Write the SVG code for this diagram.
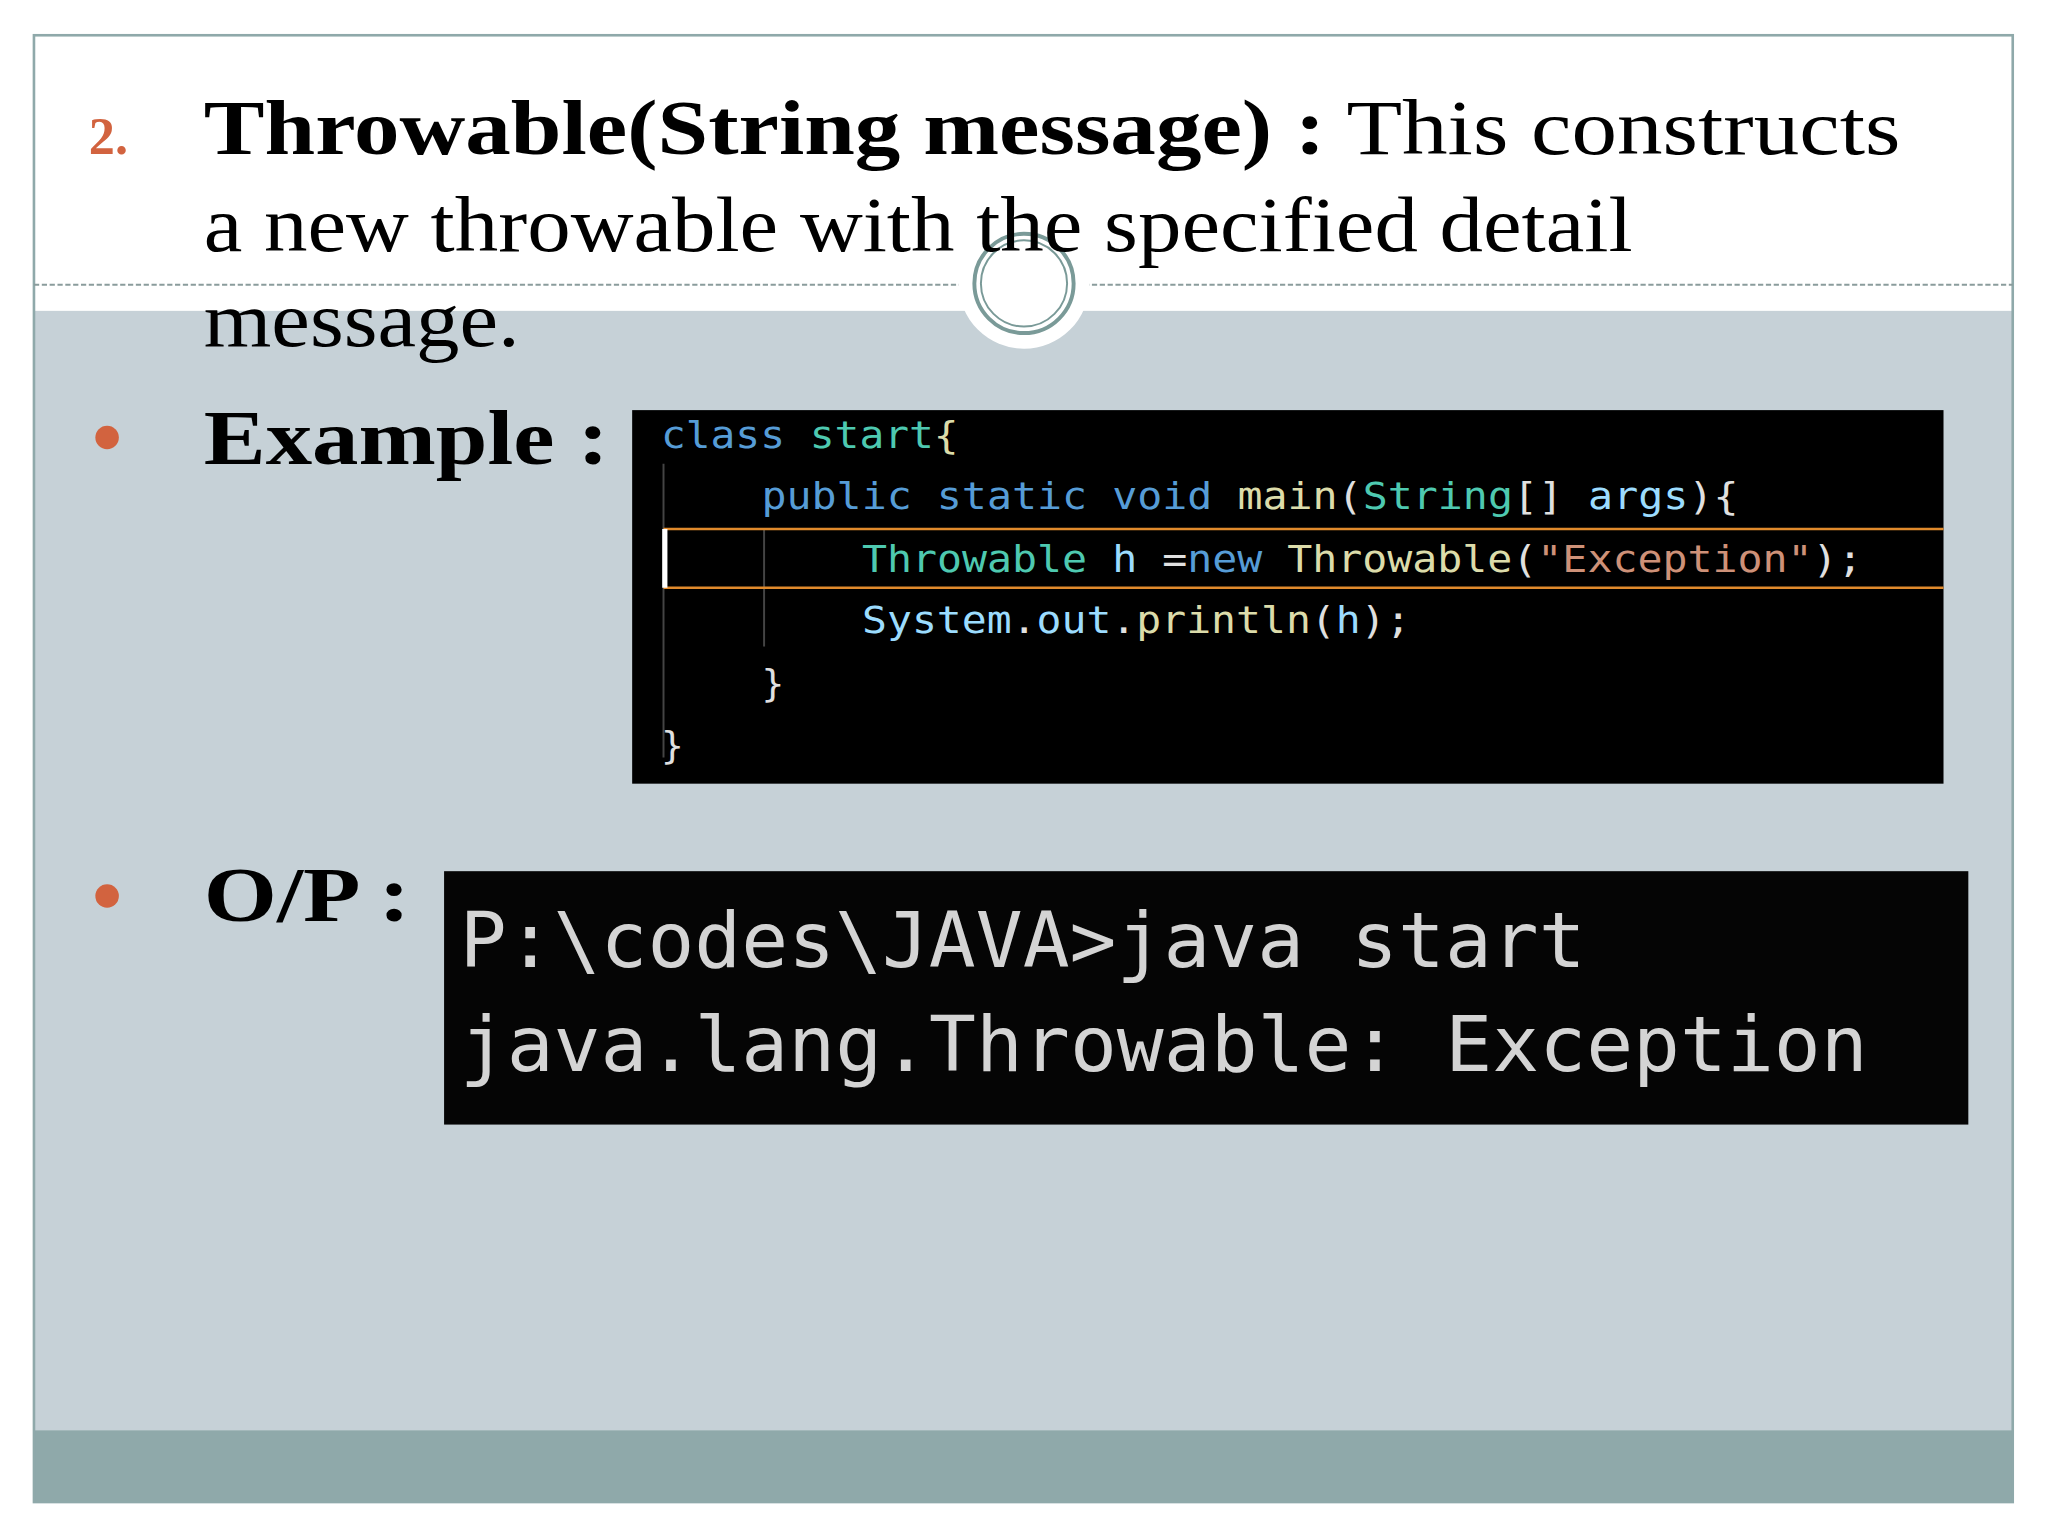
<svg xmlns="http://www.w3.org/2000/svg" width="2048" height="1536" viewBox="0 0 2048 1536">
<style>
.serif{font-family:"Liberation Serif","Times New Roman",serif;fill:#000}
.mono{font-family:"DejaVu Sans Mono","Liberation Mono",monospace;font-size:29px}
.out{font-family:"DejaVu Sans Mono","Liberation Mono",monospace;font-size:58px;fill:#d4d4d4}
.b{fill:#569cd6}.t{fill:#4ec9b0}.y{fill:#dcdcaa}.l{fill:#9cdcfe}.w{fill:#e0e0e0}.o{fill:#ce9178}
</style>
<rect width="2048" height="1536" fill="#fff"/>
<g transform="scale(1.30612)">
<rect x="26" y="238" width="1515" height="857" fill="#c6d1d7"/>
<rect x="26" y="1095" width="1515" height="55" fill="#8fa9aa"/>
<rect x="26" y="27" width="1515" height="1123" fill="none" stroke="#8fa9aa" stroke-width="2"/>
<line x1="26" y1="218" x2="1541" y2="218" stroke="#8a9c9c" stroke-width="1.5" stroke-dasharray="4,2"/>
<circle cx="784" cy="217" r="50" fill="#fff"/>
<circle cx="784" cy="217" r="38" fill="#fff" stroke="#7a9a98" stroke-width="3"/>
<circle cx="784" cy="217" r="33" fill="none" stroke="#7a9a98" stroke-width="1.5"/>
<g id="title">
<text x="68" y="118" font-family="Liberation Serif,serif" font-size="40" fill="#d2633f" font-weight="bold">2.</text>
<text class="serif" x="156" y="118" font-size="60" textLength="1299" lengthAdjust="spacingAndGlyphs"><tspan font-weight="bold">Throwable(String message) :</tspan> This constructs</text>
<text class="serif" x="156" y="192" font-size="60" textLength="1094" lengthAdjust="spacingAndGlyphs">a new throwable with the specified detail</text>
<text class="serif" x="156" y="265" font-size="60" textLength="242" lengthAdjust="spacingAndGlyphs">message.</text>
</g>
<g id="example">
<circle cx="82" cy="335" r="9" fill="#d2633f"/>
<text class="serif" x="156" y="355" font-size="60" font-weight="bold" textLength="310" lengthAdjust="spacingAndGlyphs">Example :</text>
<rect x="484" y="314" width="1004" height="286" fill="#000"/>
<line x1="508" y1="355" x2="508" y2="580" stroke="#444" stroke-width="1.5"/>
<line x1="585" y1="405" x2="585" y2="495" stroke="#444" stroke-width="1.5"/>
<line x1="508" y1="405" x2="1488" y2="405" stroke="#e08a2c" stroke-width="2"/>
<line x1="508" y1="450" x2="1488" y2="450" stroke="#e08a2c" stroke-width="2"/>
<rect x="507" y="405" width="4" height="45" fill="#fff"/>
<text class="mono" x="506" y="343" textLength="228" lengthAdjust="spacingAndGlyphs"><tspan class="b">class</tspan> <tspan class="t">start</tspan><tspan class="y">{</tspan></text>
<text class="mono" x="583" y="390" textLength="748" lengthAdjust="spacingAndGlyphs"><tspan class="b">public static void</tspan> <tspan class="y">main</tspan><tspan class="w">(</tspan><tspan class="t">String</tspan><tspan class="w">[]</tspan> <tspan class="l">args</tspan><tspan class="w">){</tspan></text>
<text class="mono" x="660" y="438" textLength="766" lengthAdjust="spacingAndGlyphs"><tspan class="t">Throwable</tspan> <tspan class="l">h</tspan> <tspan class="w">=</tspan><tspan class="b">new</tspan> <tspan class="y">Throwable</tspan><tspan class="w">(</tspan><tspan class="o">"Exception"</tspan><tspan class="w">);</tspan></text>
<text class="mono" x="660" y="485" textLength="420" lengthAdjust="spacingAndGlyphs"><tspan class="l">System</tspan><tspan class="w">.</tspan><tspan class="l">out</tspan><tspan class="w">.</tspan><tspan class="y">println</tspan><tspan class="w">(</tspan><tspan class="l">h</tspan><tspan class="w">);</tspan></text>
<text class="mono w" x="583" y="533">}</text>
<text class="mono w" x="506" y="580">}</text>
</g>
<g id="output">
<circle cx="82" cy="686" r="9" fill="#d2633f"/>
<text class="serif" x="156" y="705" font-size="60" font-weight="bold" textLength="158" lengthAdjust="spacingAndGlyphs">O/P :</text>
<rect x="340" y="667" width="1167" height="194" fill="#050505"/>
<text class="out" x="352" y="740" textLength="862" lengthAdjust="spacingAndGlyphs">P:\codes\JAVA&gt;java start</text>
<text class="out" x="352" y="820" textLength="1078" lengthAdjust="spacingAndGlyphs">java.lang.Throwable: Exception</text>
</g>
</g>
</svg>
